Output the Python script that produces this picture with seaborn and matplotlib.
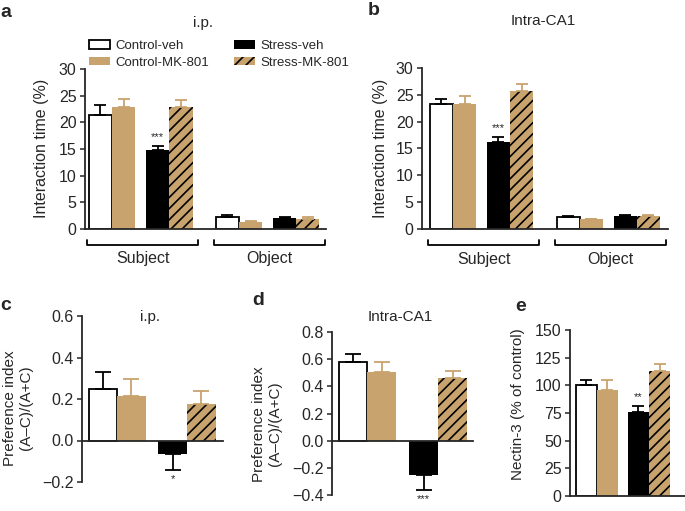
#Figura: tiempo de interacción, índice de preferencia y Nectin-3
import pandas as pd
import numpy as np
import seaborn as sns
import matplotlib.pyplot as plt
from matplotlib.patches import Patch

# Datos
conditions = ["Control-veh", "Control-MK-801", "Stress-veh", "Stress-MK-801"]
groups = ["Subject", "Object"]

a_subject = [21.4, 22.9, 14.8, 22.8]
a_subject_err = [1.85, 1.4, 0.8, 1.4]
a_object = [2.3, 1.4, 2.0, 1.9]
a_object_err = [0.3, 0.15, 0.2, 0.4]

b_subject = [23.3, 23.3, 16.2, 25.8]
b_subject_err = [0.9, 1.4, 0.9, 1.3]
b_object = [2.2, 1.8, 2.4, 2.4]
b_object_err = [0.2, 0.15, 0.2, 0.2]

c_pref = [0.248, 0.216, -0.064, 0.176]
c_pref_err = [0.081, 0.079, 0.078, 0.064]

d_pref = [0.581, 0.507, -0.252, 0.459]
d_pref_err = [0.054, 0.072, 0.11, 0.051]

e_nectin = [100.3, 95.8, 76.2, 113.2]
e_nectin_err = [4.2, 9.0, 5.1, 5.8]

stars_a = ["", "", "***", "", "", "", "", ""]
stars_b = ["", "", "***", "", "", "", "", ""]
stars_c = ["", "", "*", ""]
stars_d = ["", "", "***", ""]
stars_e = ["", "", "**", ""]

ticks_ab = [0, 5, 10, 15, 20, 25, 30]
ticks_c = [-0.2, 0.0, 0.2, 0.4, 0.6]
ticks_d = [-0.4, -0.2, 0.0, 0.2, 0.4, 0.6, 0.8]
ticks_e = [0, 25, 50, 75, 100, 125, 150]

# Estilo
sns.set_style("ticks")
plt.rcParams['font.family'] = ['Liberation Sans', 'DejaVu Sans']
plt.rcParams['hatch.linewidth'] = 1.2
plt.rcParams['axes.linewidth'] = 1.3

TAN = "#C9A36E"
face = {"Control-veh": "white", "Control-MK-801": TAN, "Stress-veh": "black", "Stress-MK-801": TAN}
errc = {"Control-veh": "black", "Control-MK-801": TAN, "Stress-veh": "black", "Stress-MK-801": TAN}

W, H = 685, 511
fig = plt.figure(figsize=(W / 100, H / 100), dpi=100)


def px_axes(l, t, r, b):
    return fig.add_axes([l / W, 1 - b / H, (r - l) / W, (b - t) / H])


def slots(n_groups):
    # posicion de cada barra: pares juntos, hueco entre pares y entre grupos
    base = np.array([0, 1, 2.45, 3.45])
    return np.concatenate([base + 5.45 * g for g in range(n_groups)])


def bars(ax, values, errs, stars, n_groups, ylim, yticks, xlim, capsize):
    pos = slots(n_groups)
    df = pd.DataFrame({"pos": pos, "value": values,
                       "condition": conditions * n_groups})
    sns.barplot(data=df, x="pos", y="value", hue="condition", hue_order=conditions,
                palette=face, native_scale=True, dodge=False, width=1.0,
                errorbar=None, legend=False, ax=ax, orient="x", saturation=1)
    for p in ax.patches:
        cx = p.get_x() + p.get_width() / 2
        cond = df.condition.iloc[np.argmin(np.abs(pos - cx))]
        p.set_linewidth(0)
        if cond == "Control-veh":
            p.set_edgecolor("black")
            p.set_linewidth(1.3)
        elif cond == "Stress-MK-801":
            p.set_edgecolor("black")
            p.set_hatch("///")
    span = ylim[1] - ylim[0]
    for x, v, e, cond, s in zip(pos, values, errs, df.condition, stars):
        lo, hi = (0, e) if v >= 0 else (e, 0)
        ax.errorbar(x, v, yerr=[[lo], [hi]], fmt="none", ecolor=errc[cond],
                    elinewidth=1.3, capsize=capsize, capthick=1.3, zorder=1)
        if s:
            sgn = 1 if v >= 0 else -1
            ax.text(x, v + sgn * (e + 0.055 * span), s, ha="center", va="center",
                    fontsize=8)
    ax.set_ylim(*ylim)
    ax.set_xlim(*xlim)
    ax.set_yticks(yticks)
    ax.set_xticks([])
    ax.set_xlabel("")
    ax.set_ylabel("")
    ax.tick_params(axis="y", labelsize=11.5, length=3.5, width=1.1, pad=2.5)
    sns.despine(ax=ax)
    return pos


def bracket(ax, x0, x1, label):
    tr = ax.get_xaxis_transform()
    ax.plot([x0, x0, x1, x1], [-0.068, -0.1, -0.1, -0.068], color="black", lw=1.3,
            transform=tr, clip_on=False)
    ax.text((x0 + x1) / 2, -0.215, label, transform=tr, ha="center", va="baseline",
            fontsize=11.5)


# a: i.p.
ax_a = px_axes(85, 69, 326, 229)
pos_a = bars(ax_a, a_subject + a_object, a_subject_err + a_object_err, stars_a, 2,
             (0, 30), ticks_ab, (-0.665, 9.68), 4.3)
# b: Intra-CA1
ax_b = px_axes(422, 68, 668, 229)
pos_b = bars(ax_b, b_subject + b_object, b_subject_err + b_object_err, stars_b, 2,
             (0, 30), ticks_ab, (-0.83, 9.74), 4.3)
for ax, pos in [(ax_a, pos_a), (ax_b, pos_b)]:
    for g, name in enumerate(groups):
        bracket(ax, pos[4 * g] - 0.57, pos[4 * g + 3] + 0.75, name)

# c, d, e
ax_c = px_axes(82, 316, 223, 482)
bars(ax_c, c_pref, c_pref_err, stars_c, 1, (-0.2, 0.6), ticks_c, (-0.73, 4.21), 5.6)
ax_d = px_axes(332, 332, 473, 495)
bars(ax_d, d_pref, d_pref_err, stars_d, 1, (-0.4, 0.8), ticks_d, (-0.73, 4.16), 5.6)
ax_e = px_axes(570, 330, 685, 496)
bars(ax_e, e_nectin, e_nectin_err, stars_e, 1, (0, 150), ticks_e, (-0.76, 4.64), 4.0)
for ax in [ax_c, ax_d]:
    ax.spines["bottom"].set_position(("data", 0))
for ax in [ax_a, ax_b, ax_c, ax_d, ax_e]:
    ax.tick_params(axis="x", length=0)


def ftext(x, y, s, **kw):
    fig.text(x / W, 1 - y / H, s, **kw)


# etiquetas de ejes
ftext(42, 148, "Interaction time (%)", rotation=90, ha="center", va="center", fontsize=11.5)
ftext(381, 148, "Interaction time (%)", rotation=90, ha="center", va="center", fontsize=11.5)
ftext(18, 408, "Preference index\n(A\u2013C)/(A+C)", rotation=90, ha="center",
      va="center", fontsize=11, linespacing=1.1)
ftext(267, 424, "Preference index\n(A\u2013C)/(A+C)", rotation=90, ha="center",
      va="center", fontsize=11, linespacing=1.1)
ftext(518, 404, "Nectin-3 (% of control)", rotation=90, ha="center", va="center", fontsize=11)

# titulos
ftext(203, 26.5, "i.p.", ha="center", va="baseline", fontsize=11)
ftext(543, 25, "Intra-CA1", ha="center", va="baseline", fontsize=11)
ftext(150, 321, "i.p.", ha="center", va="baseline", fontsize=11)
ftext(400, 321, "Intra-CA1", ha="center", va="baseline", fontsize=11)

# letras de panel
for x, y, s in [(0, 17, "a"), (368, 15, "b"), (0, 310, "c"), (252, 305, "d"), (515, 311, "e")]:
    ftext(x, y, s, ha="left", va="baseline", fontsize=14, fontweight="bold")

# leyenda
handles = [Patch(facecolor="white", edgecolor="black", linewidth=1.3),
           Patch(facecolor=TAN, linewidth=0),
           Patch(facecolor="black", linewidth=0),
           Patch(facecolor=TAN, edgecolor="black", hatch="///", linewidth=0)]
ax_a.legend(handles, conditions, ncol=2, loc="upper left", frameon=False,
            bbox_to_anchor=(89 / W, 1 - 40 / H), bbox_transform=fig.transFigure,
            fontsize=9.5, handlelength=1.6, handleheight=0.6, handletextpad=0.4,
            columnspacing=1.85, labelspacing=0.35, borderpad=0, borderaxespad=0)

plt.savefig("out.png", dpi=100)
